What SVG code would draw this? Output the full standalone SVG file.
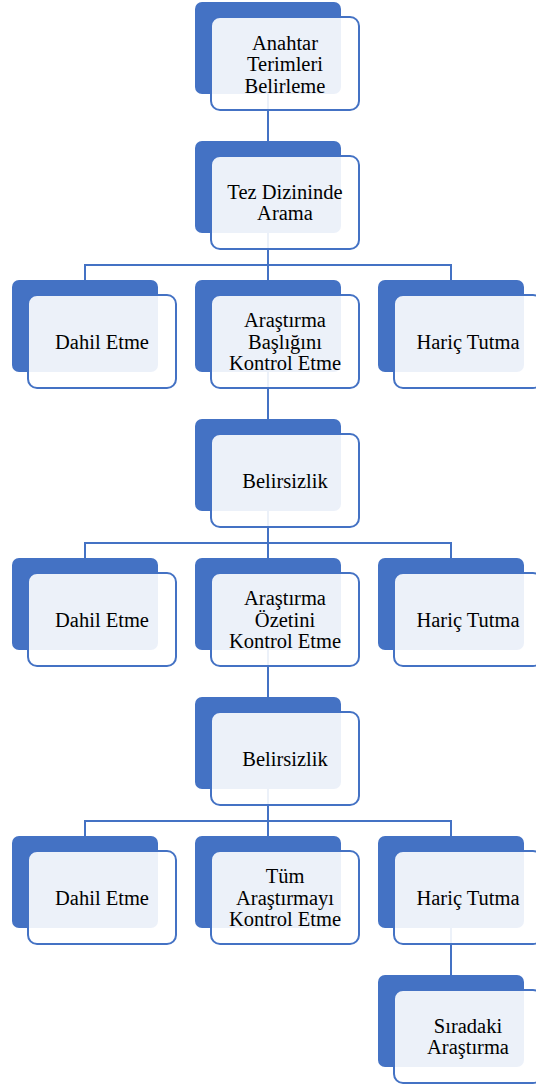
<svg xmlns="http://www.w3.org/2000/svg" width="536" height="1086" viewBox="0 0 536 1086">
<style>
.back{fill:#4472C4}
.front{fill:#ffffff;fill-opacity:0.9;stroke:#4472C4;stroke-width:2}
.conn{stroke:#4472C4;stroke-width:2;fill:none}
.t{font-family:'Liberation Serif','Times New Roman',Times,serif;font-size:20.5px;fill:#000000;text-anchor:middle}
</style>
<rect width="536" height="1086" fill="#ffffff"/>
<g id="connectors">
<path class="conn" d="M268,94V141"/>
<path class="conn" d="M268,233V280M85,280V265H451V280"/>
<path class="conn" d="M268,372V419"/>
<path class="conn" d="M268,511V558M85,558V543H451V558"/>
<path class="conn" d="M268,650V697"/>
<path class="conn" d="M268,789V836M85,836V821H451V836"/>
<path class="conn" d="M451,928V975"/>
</g>
<g id="n1"><rect class="back" x="195" y="2" width="146" height="92" rx="7"/><rect class="front" x="211" y="17" width="148" height="93" rx="9"/>
<text class="t" font-family="Liberation Serif, serif" x="285" y="49.5">Anahtar</text><text class="t" font-family="Liberation Serif, serif" x="285" y="71">Terimleri</text><text class="t" font-family="Liberation Serif, serif" x="285" y="92.5">Belirleme</text></g>
<g id="n2"><rect class="back" x="195" y="141" width="146" height="92" rx="7"/><rect class="front" x="211" y="156" width="148" height="93" rx="9"/>
<text class="t" font-family="Liberation Serif, serif" x="285" y="198.5">Tez Dizininde</text><text class="t" font-family="Liberation Serif, serif" x="285" y="220">Arama</text></g>
<g id="n3"><rect class="back" x="12" y="280" width="146" height="92" rx="7"/><rect class="front" x="28" y="295" width="148" height="93" rx="9"/>
<text class="t" font-family="Liberation Serif, serif" x="102" y="348.5">Dahil Etme</text></g>
<g id="n4"><rect class="back" x="195" y="280" width="146" height="92" rx="7"/><rect class="front" x="211" y="295" width="148" height="93" rx="9"/>
<text class="t" font-family="Liberation Serif, serif" x="285" y="327">Araştırma</text><text class="t" font-family="Liberation Serif, serif" x="285" y="348.5">Başlığını</text><text class="t" font-family="Liberation Serif, serif" x="285" y="370">Kontrol Etme</text></g>
<g id="n5"><rect class="back" x="378" y="280" width="146" height="92" rx="7"/><rect class="front" x="394" y="295" width="148" height="93" rx="9"/>
<text class="t" font-family="Liberation Serif, serif" x="468" y="348.5">Hariç Tutma</text></g>
<g id="n6"><rect class="back" x="195" y="419" width="146" height="92" rx="7"/><rect class="front" x="211" y="434" width="148" height="93" rx="9"/>
<text class="t" font-family="Liberation Serif, serif" x="285" y="487.5">Belirsizlik</text></g>
<g id="n7"><rect class="back" x="12" y="558" width="146" height="92" rx="7"/><rect class="front" x="28" y="573" width="148" height="93" rx="9"/>
<text class="t" font-family="Liberation Serif, serif" x="102" y="626.5">Dahil Etme</text></g>
<g id="n8"><rect class="back" x="195" y="558" width="146" height="92" rx="7"/><rect class="front" x="211" y="573" width="148" height="93" rx="9"/>
<text class="t" font-family="Liberation Serif, serif" x="285" y="605">Araştırma</text><text class="t" font-family="Liberation Serif, serif" x="285" y="626.5">Özetini</text><text class="t" font-family="Liberation Serif, serif" x="285" y="648">Kontrol Etme</text></g>
<g id="n9"><rect class="back" x="378" y="558" width="146" height="92" rx="7"/><rect class="front" x="394" y="573" width="148" height="93" rx="9"/>
<text class="t" font-family="Liberation Serif, serif" x="468" y="626.5">Hariç Tutma</text></g>
<g id="n10"><rect class="back" x="195" y="697" width="146" height="92" rx="7"/><rect class="front" x="211" y="712" width="148" height="93" rx="9"/>
<text class="t" font-family="Liberation Serif, serif" x="285" y="765.5">Belirsizlik</text></g>
<g id="n11"><rect class="back" x="12" y="836" width="146" height="92" rx="7"/><rect class="front" x="28" y="851" width="148" height="93" rx="9"/>
<text class="t" font-family="Liberation Serif, serif" x="102" y="904.5">Dahil Etme</text></g>
<g id="n12"><rect class="back" x="195" y="836" width="146" height="92" rx="7"/><rect class="front" x="211" y="851" width="148" height="93" rx="9"/>
<text class="t" font-family="Liberation Serif, serif" x="285" y="883">Tüm</text><text class="t" font-family="Liberation Serif, serif" x="285" y="904.5">Araştırmayı</text><text class="t" font-family="Liberation Serif, serif" x="285" y="926">Kontrol Etme</text></g>
<g id="n13"><rect class="back" x="378" y="836" width="146" height="92" rx="7"/><rect class="front" x="394" y="851" width="148" height="93" rx="9"/>
<text class="t" font-family="Liberation Serif, serif" x="468" y="904.5">Hariç Tutma</text></g>
<g id="n14"><rect class="back" x="378" y="975" width="146" height="92" rx="7"/><rect class="front" x="394" y="990" width="148" height="93" rx="9"/>
<text class="t" font-family="Liberation Serif, serif" x="468" y="1032.5">Sıradaki</text><text class="t" font-family="Liberation Serif, serif" x="468" y="1054">Araştırma</text></g>
</svg>
